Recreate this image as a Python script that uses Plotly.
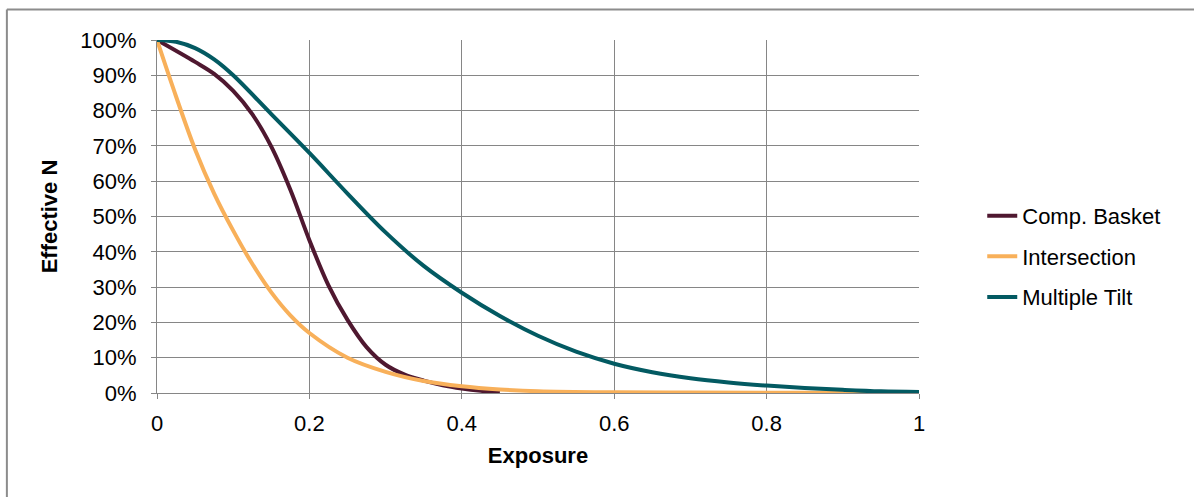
import plotly.graph_objects as go

# Exposure values and series (fractions of 1)
comp_x = [0, 0.05, 0.075, 0.1, 0.125, 0.15, 0.175, 0.2, 0.225, 0.25, 0.275, 0.3, 0.325, 0.35, 0.375, 0.4, 0.425, 0.45]
comp_y = [1.0, 0.938, 0.904, 0.856, 0.790, 0.698, 0.576, 0.433, 0.305, 0.207, 0.130, 0.080, 0.052, 0.035, 0.022, 0.013, 0.0065, 0.002]

inter_x = [0, 0.025, 0.05, 0.075, 0.1, 0.125, 0.15, 0.175, 0.2, 0.25, 0.3, 0.35, 0.4, 0.45, 0.5, 0.6, 0.7, 0.8, 0.9, 1.0]
inter_y = [1.0, 0.84, 0.69, 0.565, 0.46, 0.366, 0.285, 0.22, 0.17, 0.10, 0.06, 0.034, 0.019, 0.010, 0.005, 0.002, 0.0012, 0.0008, 0.0005, 0.0003]

tilt_x = [0, 0.025, 0.05, 0.075, 0.1, 0.15, 0.2, 0.25, 0.3, 0.35, 0.4, 0.45, 0.5, 0.55, 0.6, 0.65, 0.7, 0.75, 0.8, 0.85, 0.9, 0.95, 1.0]
tilt_y = [1.0, 0.995, 0.977, 0.945, 0.9, 0.79, 0.68, 0.565, 0.455, 0.36, 0.284, 0.218, 0.162, 0.117, 0.083, 0.059, 0.042, 0.03, 0.021, 0.014, 0.009, 0.005, 0.003]

series_names = ["Comp. Basket", "Intersection", "Multiple Tilt"]
series_colors = ["#4F1830", "#F8B05A", "#035A62"]

x_ticks = [0, 0.2, 0.4, 0.6, 0.8, 1]
x_tick_labels = ["0", "0.2", "0.4", "0.6", "0.8", "1"]
y_ticks = [0, 0.1, 0.2, 0.3, 0.4, 0.5, 0.6, 0.7, 0.8, 0.9, 1.0]
y_tick_labels = ["0%", "10%", "20%", "30%", "40%", "50%", "60%", "70%", "80%", "90%", "100%"]

fig = go.Figure()
for name, xs, ys, col in zip(series_names, [comp_x, inter_x, tilt_x], [comp_y, inter_y, tilt_y], series_colors):
    fig.add_trace(go.Scatter(
        x=xs, y=ys, name=name, mode="lines",
        line=dict(color=col, width=4, shape="spline", smoothing=1.0),
        legendgroup=name,
    ))

grid = "#868686"
fs = 22
fig.update_layout(
    width=1194, height=497,
    margin=dict(l=157, r=275, t=40, b=104),
    paper_bgcolor="white", plot_bgcolor="white",
    font=dict(family="Liberation Sans, Arial, sans-serif", size=fs, color="black"),
    showlegend=True,
    legend=dict(
        x=1.083, xanchor="left", y=0.387, yanchor="middle",
        font=dict(size=fs), tracegroupgap=9, bgcolor="rgba(0,0,0,0)",
    ),
    xaxis=dict(
        range=[0, 1], tickvals=x_ticks, ticktext=x_tick_labels,
        showgrid=True, gridcolor=grid, gridwidth=1,
        showline=True, linecolor=grid, linewidth=1,
        ticks="outside", ticklen=5, tickcolor=grid,
        zeroline=False, ticklabelstandoff=6,
        title=dict(text="<b>Exposure</b>", font=dict(size=fs), standoff=12),
    ),
    yaxis=dict(
        range=[0, 1], tickvals=y_ticks, ticktext=y_tick_labels,
        showgrid=True, gridcolor=grid, gridwidth=1,
        showline=True, linecolor=grid, linewidth=1,
        ticks="outside", ticklen=5, tickcolor=grid,
        zeroline=False, ticklabelstandoff=10,
        title=dict(text="<b>Effective N</b>", font=dict(size=fs), standoff=16),
    ),
    shapes=[
        dict(type="line", xref="paper", yref="paper", x0=-0.197, x1=1.372, y0=1.0864, y1=1.0864,
             line=dict(color="#8C8C8C", width=2)),
        dict(type="line", xref="paper", yref="paper", x0=-0.197, x1=-0.197, y0=1.0864, y1=-0.3,
             line=dict(color="#8C8C8C", width=2)),
    ],
)
fig.write_html("out.html", config={"displayModeBar": False},
               post_script="document.body.style.margin='0px';document.body.style.overflow='hidden';")
